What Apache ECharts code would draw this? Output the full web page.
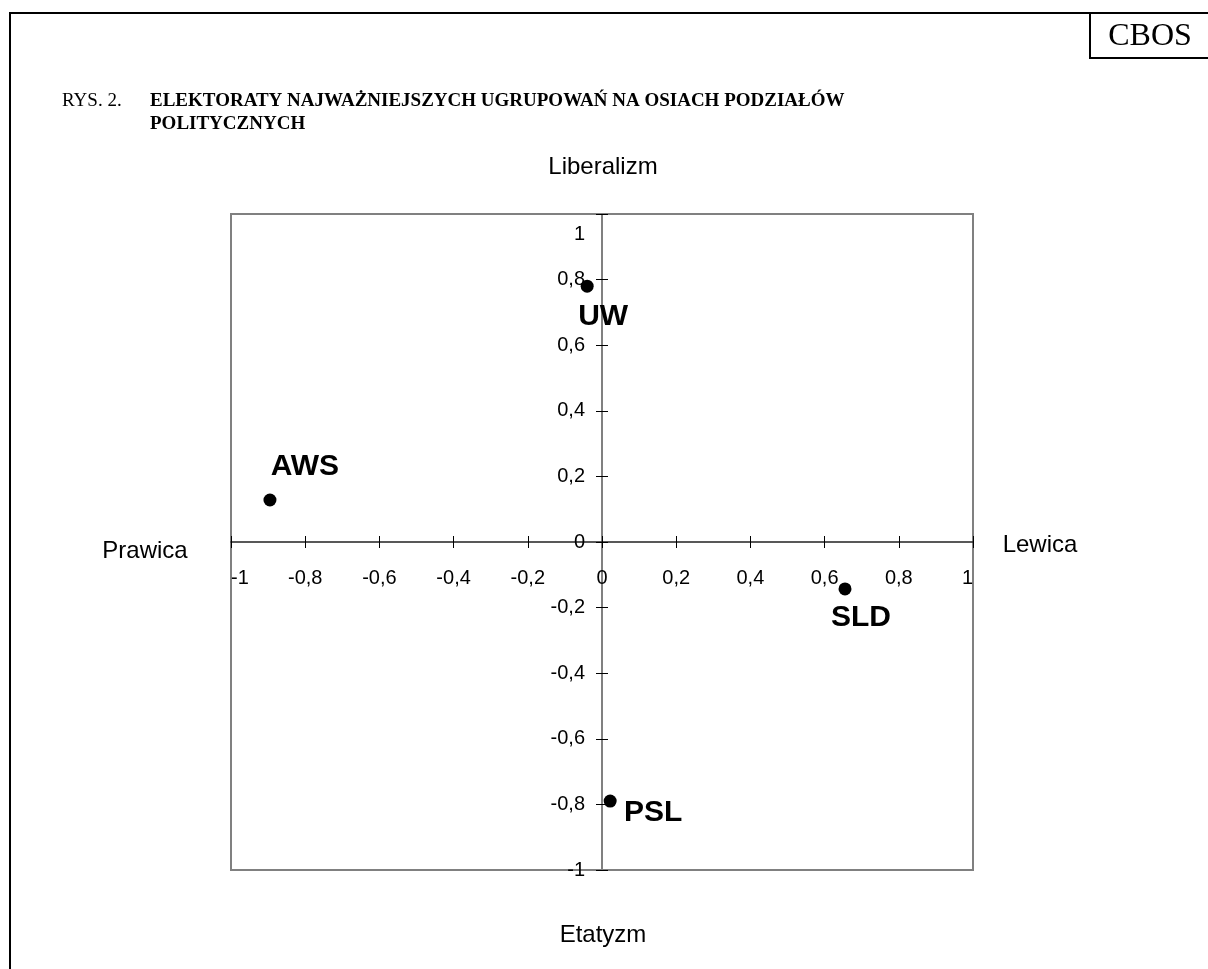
<!DOCTYPE html>
<html>
<head>
<meta charset="utf-8">
<script src="https://cdn.jsdelivr.net/npm/echarts@6/dist/echarts.min.js"></script>
<style>
  html, body { margin: 0; padding: 0; background: #fff; }
  #chart { width: 1208px; height: 969px; }
</style>
</head>
<body>
<div id="chart"></div>
<script>
// electorates on the two axes of political division
const parties = ['UW', 'AWS', 'SLD', 'PSL'];
const prawicaLewica = [-0.04, -0.895, 0.655, 0.022];      // x: right (-1) .. left (+1)
const etatyzmLiberalizm = [0.78, 0.128, -0.143, -0.79];   // y: statism (-1) .. liberalism (+1)
const axisMin = -1;
const axisMax = 1;
const axisStep = 0.2;

// where each party name sits relative to its dot (px)
const labelOffsets = {
  UW: [16, 31],
  AWS: [35, -33],
  SLD: [16, 29],
  PSL: [43, 12]
};

const SANS = '"Liberation Sans", Arial, sans-serif';
const SERIF = '"Liberation Serif", "Times New Roman", serif';

const GRID = { left: 231, top: 214, width: 742, height: 656 };

const chart = echarts.init(document.getElementById('chart'));

const fmt = v => String(+v.toFixed(1)).replace('.', ',');

const tickLabel = {
  fontFamily: SANS,
  fontSize: 20,
  color: '#000'
};

// labels are drawn from the grid edge, so pull them back next to the zero lines
const xZeroPx = GRID.left + GRID.width / 2;
const yZeroPx = GRID.top + GRID.height / 2;

const option = {
  backgroundColor: '#fff',
  animation: false,
  grid: Object.assign({
    show: true,
    borderColor: '#808080',
    borderWidth: 2,
    backgroundColor: 'transparent'
  }, GRID),
  xAxis: [
    {
      type: 'value',
      min: axisMin,
      max: axisMax,
      interval: axisStep,
      position: 'bottom',
      axisLine: { onZero: true, onZeroAxisIndex: 0, lineStyle: { color: '#222', width: 1.5 } },
      axisTick: { show: true, length: 6, lineStyle: { color: '#000', width: 1 } },
      axisLabel: Object.assign({
        margin: 26 - (GRID.top + GRID.height - yZeroPx),
        formatter: fmt,
        alignMinLabel: 'left',
        alignMaxLabel: 'right',
        showMinLabel: true,
        showMaxLabel: true
      }, tickLabel),
      splitLine: { show: false }
    },
    {
      type: 'value',
      min: axisMin,
      max: axisMax,
      interval: axisStep,
      position: 'top',
      axisLine: { show: false, onZero: true, onZeroAxisIndex: 0 },
      axisTick: { show: true, length: 6, lineStyle: { color: '#000', width: 1 } },
      axisLabel: { show: false },
      splitLine: { show: false }
    }
  ],
  yAxis: [
    {
      type: 'value',
      min: axisMin,
      max: axisMax,
      interval: axisStep,
      position: 'left',
      axisLine: { onZero: true, onZeroAxisIndex: 0, lineStyle: { color: '#808080', width: 2 } },
      axisTick: { show: true, length: 6, lineStyle: { color: '#000', width: 1 } },
      axisLabel: Object.assign({
        margin: 17 - (xZeroPx - GRID.left),
        showMinLabel: true,
        showMaxLabel: true,
        formatter: v => (v === axisMax ? '{top|' + fmt(v) + '}' : fmt(v)),
        rich: {
          top: { fontFamily: SANS, fontSize: 20, color: '#000', padding: [40, 0, 0, 0] }
        }
      }, tickLabel),
      splitLine: { show: false }
    },
    {
      type: 'value',
      min: axisMin,
      max: axisMax,
      interval: axisStep,
      position: 'right',
      axisLine: { show: false, onZero: true, onZeroAxisIndex: 0 },
      axisTick: { show: true, length: 6, lineStyle: { color: '#000', width: 1 } },
      axisLabel: { show: false },
      splitLine: { show: false }
    }
  ],
  series: [
    {
      type: 'scatter',
      xAxisIndex: 0,
      yAxisIndex: 0,
      symbol: 'circle',
      symbolSize: 13,
      itemStyle: { color: '#000', opacity: 1 },
      label: {
        show: true,
        position: 'inside',
        formatter: '{b}',
        fontFamily: SANS,
        fontWeight: 'bold',
        fontSize: 30,
        color: '#000',
        align: 'center',
        verticalAlign: 'middle'
      },
      emphasis: { disabled: true },
      data: parties.map((p, i) => ({
        name: p,
        value: [prawicaLewica[i], etatyzmLiberalizm[i]],
        label: { offset: labelOffsets[p] }
      }))
    }
  ],
  graphic: [
    // page frame and the CBOS box
    { type: 'polyline', shape: { points: [[10, 969], [10, 13], [1208, 13]] }, style: { stroke: '#000', lineWidth: 2, fill: null } },
    { type: 'polyline', shape: { points: [[1090, 13], [1090, 58], [1208, 58]] }, style: { stroke: '#000', lineWidth: 2, fill: null } },
    { type: 'text', x: 1150, y: 37, style: { text: 'CBOS', font: '32px ' + SERIF, fill: '#000', align: 'center', verticalAlign: 'middle' } },
    // figure caption
    { type: 'text', left: 62, top: 92, style: { text: 'RYS. 2.', font: '19px ' + SERIF, fill: '#000' } },
    { type: 'text', left: 150, top: 92, style: { text: 'ELEKTORATY NAJWAŻNIEJSZYCH UGRUPOWAŃ NA OSIACH PODZIAŁÓW', font: 'bold 19px ' + SERIF, fill: '#000' } },
    { type: 'text', left: 150, top: 115, style: { text: 'POLITYCZNYCH', font: 'bold 19px ' + SERIF, fill: '#000' } },
    // axis pole names
    { type: 'text', x: 603, y: 167, style: { text: 'Liberalizm', font: '24px ' + SANS, fill: '#000', align: 'center', verticalAlign: 'middle' } },
    { type: 'text', x: 603, y: 935, style: { text: 'Etatyzm', font: '24px ' + SANS, fill: '#000', align: 'center', verticalAlign: 'middle' } },
    { type: 'text', x: 145, y: 551, style: { text: 'Prawica', font: '24px ' + SANS, fill: '#000', align: 'center', verticalAlign: 'middle' } },
    { type: 'text', x: 1040, y: 545, style: { text: 'Lewica', font: '24px ' + SANS, fill: '#000', align: 'center', verticalAlign: 'middle' } }
  ]
};

chart.setOption(option);
</script>
</body>
</html>
